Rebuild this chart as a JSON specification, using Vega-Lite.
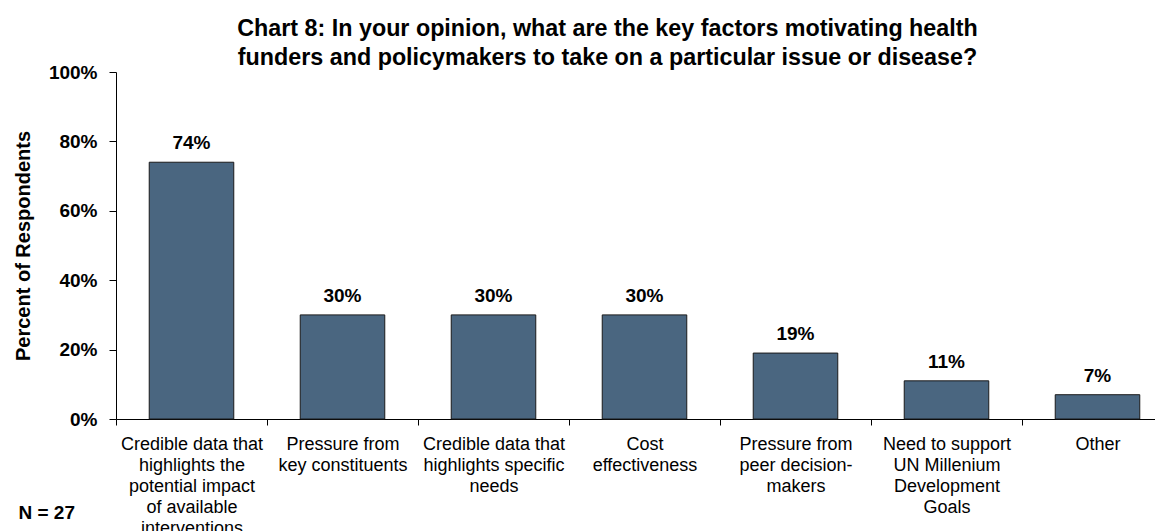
{
  "$schema": "https://vega.github.io/schema/vega-lite/v6.json",
  "width": 1039,
  "height": 347,
  "autosize": {"type": "none"},
  "padding": {"left": 116, "top": 72, "right": 0, "bottom": 112},
  "background": "white",
  "config": {
    "font": "Liberation Sans",
    "view": {"stroke": null},
    "axis": {"grid": false, "domainColor": "black", "tickColor": "black", "labelColor": "black", "titleColor": "black"}
  },
  "title": {
    "text": ["Chart 8: In your opinion, what are the key factors motivating health", "funders and policymakers to take on a particular issue or disease?"],
    "fontSize": 23.3,
    "fontWeight": "bold",
    "font": "Liberation Sans",
    "color": "black",
    "anchor": "middle",
    "frame": "group",
    "dx": -28,
    "dy": 35,
    "lineHeight": 28.5,
    "baseline": "alphabetic",
    "offset": 10
  },
  "data": {
    "values": [
      {"factor": "Credible data that|highlights the|potential impact|of available|interventions", "pct": 0.74},
      {"factor": "Pressure from|key constituents", "pct": 0.30},
      {"factor": "Credible data that|highlights specific|needs", "pct": 0.30},
      {"factor": "Cost|effectiveness", "pct": 0.30},
      {"factor": "Pressure from|peer decision-|makers", "pct": 0.19},
      {"factor": "Need to support|UN Millenium|Development|Goals", "pct": 0.11},
      {"factor": "Other", "pct": 0.07}
    ]
  },
  "encoding": {
    "x": {
      "field": "factor",
      "type": "nominal",
      "sort": null,
      "scale": {"range": [0, 1057], "paddingInner": 0, "paddingOuter": 0},
      "axis": {
        "title": "N = 27",
        "titleFontSize": 19,
        "titleFontWeight": "bold",
        "titleAlign": "left",
        "titleAnchor": null,
        "titleX": -98,
        "titleY": 99,
        "titleBaseline": "alphabetic",
        "labelExpr": "split(datum.label, '|')",
        "labelAngle": 0,
        "labelFontSize": 18,
        "labelLineHeight": 21,
        "labelBaseline": "top",
        "labelPadding": 10,
        "labelOverlap": false,
        "labelBound": false,
        "labelLimit": 300,
        "tickSize": 6,
        "tickBand": "extent",
        "domainWidth": 1,
        "tickWidth": 1
      }
    },
    "y": {
      "field": "pct",
      "type": "quantitative",
      "scale": {"domain": [0, 1], "nice": false},
      "axis": {
        "title": "Percent of Respondents",
        "titleFontSize": 20,
        "titleFontWeight": "bold",
        "titlePadding": 15,
        "format": ".0%",
        "values": [0, 0.2, 0.4, 0.6, 0.8, 1],
        "labelFontSize": 19,
        "labelFontWeight": "bold",
        "labelPadding": 12,
        "tickSize": 7,
        "domainWidth": 1
      }
    }
  },
  "layer": [
    {
      "mark": {"type": "bar", "width": {"band": 0.56}, "color": "#4a6680", "stroke": "#1a1a1a", "strokeWidth": 1}
    },
    {
      "mark": {"type": "text", "dy": -13, "baseline": "alphabetic", "fontSize": 19, "fontWeight": "bold", "color": "black"},
      "encoding": {"text": {"field": "pct", "type": "quantitative", "format": ".0%"}}
    }
  ]
}
